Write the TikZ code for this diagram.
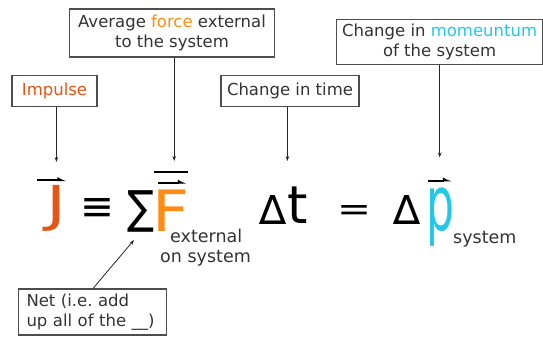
\documentclass[tikz,border=0pt]{standalone}
\usepackage{fontspec}
\setmainfont{DejaVu Sans}
\usepackage{graphicx}
\usetikzlibrary{arrows.meta,calc}
\definecolor{jcol}{HTML}{E65514}
\definecolor{fcol}{HTML}{FF8C14}
\definecolor{pcol}{HTML}{22C8EA}
\definecolor{txt}{HTML}{333333}
\definecolor{edge}{HTML}{4D4D4D}
\newcommand\glyphfit[3]{\resizebox*{#1}{#2}{#3}}
\frenchspacing
\begin{document}
\begin{tikzpicture}[x=1pt,y=-1pt,
  lbl/.style={draw=edge,line width=1.1pt,fill=white,text=txt,font=\fontsize{16.5}{20}\selectfont,inner sep=0pt,align=center},
  glyph/.style={inner sep=0pt,anchor=center},
  sub/.style={inner sep=0pt,anchor=base west,text=txt,font=\fontsize{17.5}{20}\selectfont},
  pointer/.style={draw=black!85,line width=0.8pt,-{Stealth[length=5pt,width=3.6pt]}},
  vecarrow/.style={line width=1.7pt,-{Latex[left,length=7pt,width=7pt]}},
]
\useasboundingbox (0,0) rectangle (543,337);
% boxes
\node[lbl,minimum width=85pt,minimum height=31pt] (imp) at (54.5,91) {\textcolor{jcol}{Impulse}};
\node[lbl,minimum width=205pt,minimum height=48pt] (avg) at (172,33) {Average \textcolor{fcol}{force} external\\to the system};
\node[lbl,minimum width=138pt,minimum height=31pt] (dt) at (290,91) {Change in time};
\node[lbl,minimum width=206pt,minimum height=45pt] (mom) at (439.6,41.8) {Change in \textcolor{pcol}{momeuntum}\\of the system};
\node[lbl,minimum width=148pt,minimum height=46pt,align=left,text width=132pt] (net) at (92.5,312) {Net (i.e. add\\up all of the \_\_)};
% equation glyphs
\node[glyph,text=jcol] (J) at (56,208.3) {\glyphfit{20pt}{46pt}{J}};
\node[glyph] (eqv) at (97.5,209.7) {\glyphfit{34pt}{22pt}{≡}};
\node[glyph] (sum) at (140.8,211.5) {\glyphfit{27pt}{41.6pt}{∑}};
\node[glyph,text=fcol] (F) at (170.8,210.5) {\glyphfit{37pt}{41.6pt}{F}};
\node[glyph] (d1) at (273.3,210) {\glyphfit{!}{29pt}{∆}};
\node[glyph] (t) at (297.5,205) {\glyphfit{!}{36.6pt}{t}};
\node[glyph] (eq) at (354.2,213.3) {\glyphfit{34pt}{15pt}{=}};
\node[glyph] (d2) at (406.7,210) {\glyphfit{!}{29pt}{∆}};
\node[glyph,text=pcol] (p) at (440.8,217.5) {\glyphfit{28pt}{58.4pt}{p}};
% subscripts
\node[sub] (ext) at (170,242) {external};
\node[sub] (ons) at (160,262.5) {on system};
\node[sub] (sys) at (453,243) {system};
% vector arrows and bar
\draw[vecarrow] (36.7,180.3) -- (66.5,180.3);
\draw[line width=1.8pt] (154,172) -- (188,172);
\draw[vecarrow] (158,183) -- (187,183);
\draw[vecarrow] (428.3,180.7) -- (452,180.7);
% pointers
\coordinate (ti) at (56.4,162);
\draw[pointer] (imp.south -| ti) -- (ti);
\coordinate (ta) at (174.2,161);
\draw[pointer] (avg.south -| ta) -- (ta);
\coordinate (tt) at (287.4,161);
\draw[pointer] (dt.south -| tt) -- (tt);
\coordinate (tm) at (439.7,157.5);
\draw[pointer] (mom.south -| tm) -- (tm);
\coordinate (nb) at (93,0);
\coordinate (tn) at (134,240);
\draw[pointer] (net.north -| nb) -- (tn);
\end{tikzpicture}
\end{document}
